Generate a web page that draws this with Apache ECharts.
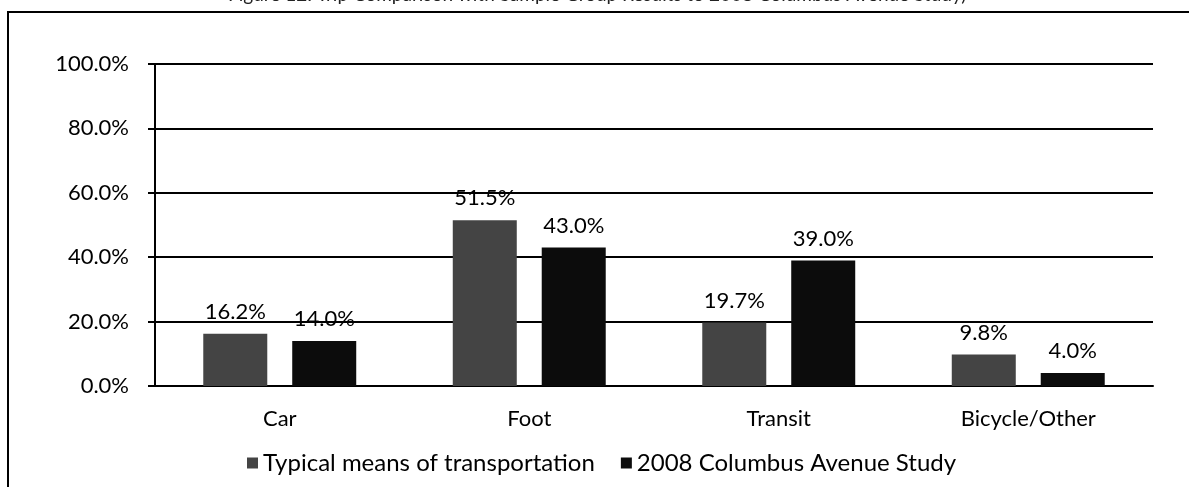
<!DOCTYPE html>
<html>
<head>
<meta charset="utf-8">
<script src="https://cdn.jsdelivr.net/npm/echarts@6/dist/echarts.min.js"></script>
<style>
  html, body { margin: 0; padding: 0; background: #fff; }
  #chart { width: 1189px; height: 487px; }
</style>
</head>
<body>
<div id="chart"></div>
<script>
const categories = ['Car', 'Foot', 'Transit', 'Bicycle/Other']
const typicalMeans = [16.2, 51.5, 19.7, 9.8]
const columbus2008 = [14.0, 43.0, 39.0, 4.0]
const seriesNames = ['Typical means of transportation', '2008 Columbus Avenue Study']

const font = 'Lato, "Open Sans", sans-serif'
const chart = echarts.init(document.getElementById('chart'))

const pct = v => v.toFixed(1) + '%'

chart.setOption({
  animation: false,
  backgroundColor: '#fff',
  textStyle: { fontFamily: font, color: '#000' },
  graphic: [
    // frame of the scanned figure
    { type: 'rect', shape: { x: 8, y: 12, width: 1200, height: 520 },
      style: { fill: 'none', stroke: '#000', lineWidth: 2 } },
    // caption, cut off by the top edge
    { type: 'text', left: 228, top: -15,
      style: { text: 'Figure 12: Trip Comparison with Sample Group Results to 2008 Columbus Avenue Study)',
        font: '19px ' + font, fill: '#222' } }
  ],
  grid: { left: 155, right: 36, top: 64, bottom: 101 },
  legend: {
    data: seriesNames,
    left: 242,
    top: 446,
    itemWidth: 11,
    itemHeight: 11,
    itemGap: 26,
    icon: 'rect',
    textStyle: { fontFamily: font, fontSize: 24, color: '#000' }
  },
  xAxis: {
    type: 'category',
    data: categories,
    axisLine: { lineStyle: { color: '#000', width: 2 } },
    axisTick: { show: false },
    axisLabel: { fontFamily: font, fontSize: 22, color: '#000', margin: 22 }
  },
  yAxis: {
    type: 'value',
    min: 0,
    max: 100,
    interval: 20,
    axisLine: { show: true, lineStyle: { color: '#000', width: 2 } },
    axisTick: { show: true, length: 7, lineStyle: { color: '#000', width: 2 } },
    axisLabel: { fontFamily: font, fontSize: 22, color: '#000', margin: 26, formatter: pct },
    splitLine: { lineStyle: { color: '#000', width: 2 } }
  },
  series: [
    {
      name: seriesNames[0],
      type: 'bar',
      data: typicalMeans,
      barWidth: 64,
      barGap: '39%',
      itemStyle: { color: '#444' },
      label: { show: true, position: 'top', distance: 11, fontFamily: font, fontSize: 22, color: '#000',
        formatter: p => pct(p.value) }
    },
    {
      name: seriesNames[1],
      type: 'bar',
      data: columbus2008,
      barWidth: 64,
      itemStyle: { color: '#0c0c0c' },
      label: { show: true, position: 'top', distance: 11, fontFamily: font, fontSize: 22, color: '#000',
        formatter: p => pct(p.value) }
    }
  ]
})
</script>
</body>
</html>
